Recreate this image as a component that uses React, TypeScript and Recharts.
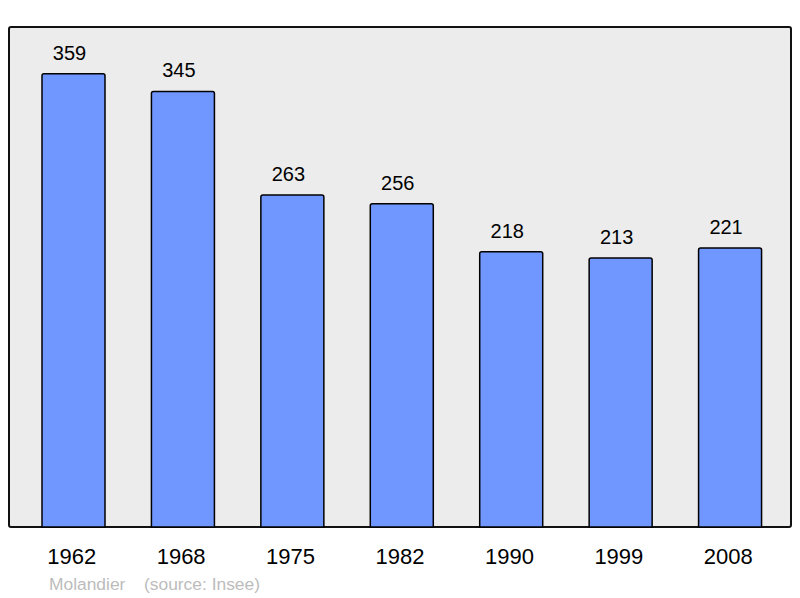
import React from 'react';
import { BarChart, Bar, XAxis, YAxis, LabelList } from 'recharts';

const years = ['1962', '1968', '1975', '1982', '1990', '1999', '2008'];
const population = [359, 345, 263, 256, 218, 213, 221];
const footerAuthor = 'Molandier';
const footerSource = '(source: Insee)';

const data = years.map((year, i) => ({ year, population: population[i] }));

const FONT = '"Liberation Sans", Arial, sans-serif';

const ValueLabel = (props: any) => {
  const { x, y, width, value } = props;
  return (
    <text x={x + width / 2 - 4} y={y - 14} textAnchor="middle" fontSize={20} fontFamily={FONT} fill="#000">
      {value}
    </text>
  );
};

const YearTick = (props: any) => {
  const { x, y, payload } = props;
  return (
    <text x={x - 2} y={y + 37} textAnchor="middle" fontSize={22} fontFamily={FONT} fill="#000">
      {payload.value}
    </text>
  );
};

export default function App() {
  return (
    <div style={{ position: 'absolute', left: 0, top: 0, width: 800, height: 598, background: '#fff' }}>
      <div
        style={{
          position: 'absolute',
          left: 8,
          top: 26,
          width: 784,
          height: 502,
          boxSizing: 'border-box',
          border: '2px solid #111',
          borderRadius: 3,
          background: '#ececec',
        }}
      />
      <div style={{ position: 'absolute', left: 0, top: 0 }}>
        <BarChart width={800} height={598} data={data} margin={{ top: 27, right: 15, left: 19, bottom: 0 }}>
          <XAxis
            dataKey="year"
            height={71}
            axisLine={false}
            tickLine={false}
            tickSize={0}
            tickMargin={0}
            tick={<YearTick />}
            interval={0}
          />
          <YAxis hide domain={[0, 396]} />
          <Bar
            dataKey="population"
            fill="#7097ff"
            stroke="#000"
            strokeWidth={1.5}
            barSize={63}
            radius={[2, 2, 0, 0]}
            isAnimationActive={false}
          >
            <LabelList dataKey="population" content={<ValueLabel />} />
          </Bar>
        </BarChart>
      </div>
      <svg width={800} height={598} style={{ position: 'absolute', left: 0, top: 0, pointerEvents: 'none' }}>
        <text x={49} y={590} fontSize={17.4} fontFamily={FONT} fill="#bcbcbc">
          {footerAuthor}
        </text>
        <text x={144} y={590} fontSize={17.4} fontFamily={FONT} fill="#bcbcbc">
          {footerSource}
        </text>
      </svg>
    </div>
  );
}
